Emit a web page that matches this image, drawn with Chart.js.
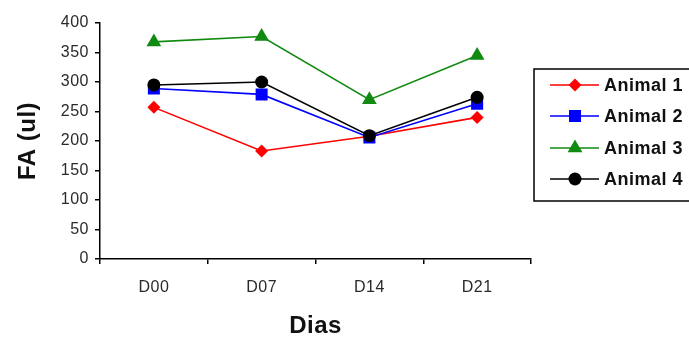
<!DOCTYPE html>
<html>
<head>
<meta charset="utf-8">
<script src="https://cdn.jsdelivr.net/npm/chart.js@4"></script>
<style>
  html, body { margin: 0; padding: 0; background: #fff; }
  #wrap { width: 689px; height: 338px; }
</style>
</head>
<body>
<div id="wrap"><canvas id="c" width="689" height="338"></canvas></div>
<script>
// Days of sampling
const dias = ['D00', 'D07', 'D14', 'D21'];

// FA volume (ul) per animal
const animal1 = [257, 183, 208, 240];
const animal2 = [289, 279, 206, 263];
const animal3 = [368, 377, 270, 345];
const animal4 = [295, 300, 209, 274];

const seriesNames = ['Animal 1', 'Animal 2', 'Animal 3', 'Animal 4'];
const seriesValues = [animal1, animal2, animal3, animal4];
const seriesColors = ['#ff0000', '#0000ff', '#108a10', '#000000'];
const seriesMarkers = ['rectRot', 'rect', 'triangle', 'circle'];
const markerRadius = [6.5, 8.5, 8.5, 6.5];

// Y axis range and step
const yMin = 0, yMax = 400, yStep = 50;

const FONT = '"Liberation Sans", Arial, Helvetica, sans-serif';
const SPACING = '0.5px';

const datasets = seriesNames.map((name, i) => ({
  label: name,
  data: seriesValues[i],
  borderColor: seriesColors[i],
  backgroundColor: seriesColors[i],
  pointBackgroundColor: seriesColors[i],
  pointBorderColor: seriesColors[i],
  pointStyle: seriesMarkers[i],
  pointRadius: markerRadius[i],
  pointBorderWidth: 0,
  borderWidth: 1.6,
  tension: 0,
  order: seriesNames.length - i
}));

// Slightly widened lettering for all canvas text
const spacing = {
  id: 'spacing',
  beforeUpdate(chart) { chart.ctx.letterSpacing = SPACING; },
  beforeDraw(chart) { chart.ctx.letterSpacing = SPACING; }
};

// Boxed legend on the right
const boxLegend = {
  id: 'boxLegend',
  afterDraw(chart) {
    const ctx = chart.ctx;
    const left = 534, top = 69, bottom = 201, right = 700;
    ctx.save();
    ctx.letterSpacing = SPACING;
    ctx.strokeStyle = '#000';
    ctx.lineWidth = 1.5;
    ctx.strokeRect(left, top, right - left, bottom - top);
    const rows = [85, 116, 148, 179];
    chart.data.datasets.forEach((ds, i) => {
      const y = rows[i];
      ctx.strokeStyle = ds.borderColor;
      ctx.lineWidth = 1.6;
      ctx.beginPath();
      ctx.moveTo(550, y);
      ctx.lineTo(599, y);
      ctx.stroke();
      ctx.fillStyle = ds.pointBackgroundColor;
      Chart.helpers.drawPoint(ctx, {
        pointStyle: ds.pointStyle,
        radius: ds.pointRadius,
        borderWidth: 0,
        rotation: 0
      }, 575, y);
      ctx.fillStyle = '#111';
      ctx.font = 'bold 18px ' + FONT;
      ctx.textAlign = 'left';
      ctx.textBaseline = 'middle';
      ctx.fillText(ds.label, 604, y + 1);
    });
    ctx.restore();
  }
};

new Chart(document.getElementById('c'), {
  type: 'line',
  data: { labels: dias, datasets },
  plugins: [spacing, boxLegend],
  options: {
    responsive: false,
    animation: false,
    events: [],
    layout: { padding: { top: 23, right: 158, left: 0, bottom: 0 } },
    plugins: {
      legend: { display: false },
      tooltip: { enabled: false }
    },
    scales: {
      x: {
        offset: true,
        grid: {
          offset: true,
          drawOnChartArea: false,
          drawTicks: true,
          tickLength: 5,
          color: '#000',
          lineWidth: 1.5
        },
        border: { color: '#000', width: 1.5 },
        ticks: {
          color: '#2a2a2a',
          font: { family: FONT, size: 16 },
          padding: 14,
          maxRotation: 0
        },
        title: {
          display: true,
          text: 'Dias',
          color: '#111',
          font: { family: FONT, size: 24, weight: 'bold', lineHeight: 1 },
          padding: 0
        },
        afterFit(scale) { scale.height = 79; }
      },
      y: {
        min: yMin,
        max: yMax,
        grid: {
          drawOnChartArea: false,
          drawTicks: true,
          tickLength: 5,
          color: '#000',
          lineWidth: 1.5
        },
        border: { color: '#000', width: 1.5 },
        ticks: {
          stepSize: yStep,
          color: '#2a2a2a',
          font: { family: FONT, size: 16 },
          padding: 6
        },
        title: {
          display: true,
          text: 'FA (ul)',
          color: '#111',
          font: { family: FONT, size: 24, weight: 'bold', lineHeight: 1 },
          padding: 16
        },
        afterFit(scale) { scale.width = 100; }
      }
    }
  }
});
</script>
</body>
</html>
